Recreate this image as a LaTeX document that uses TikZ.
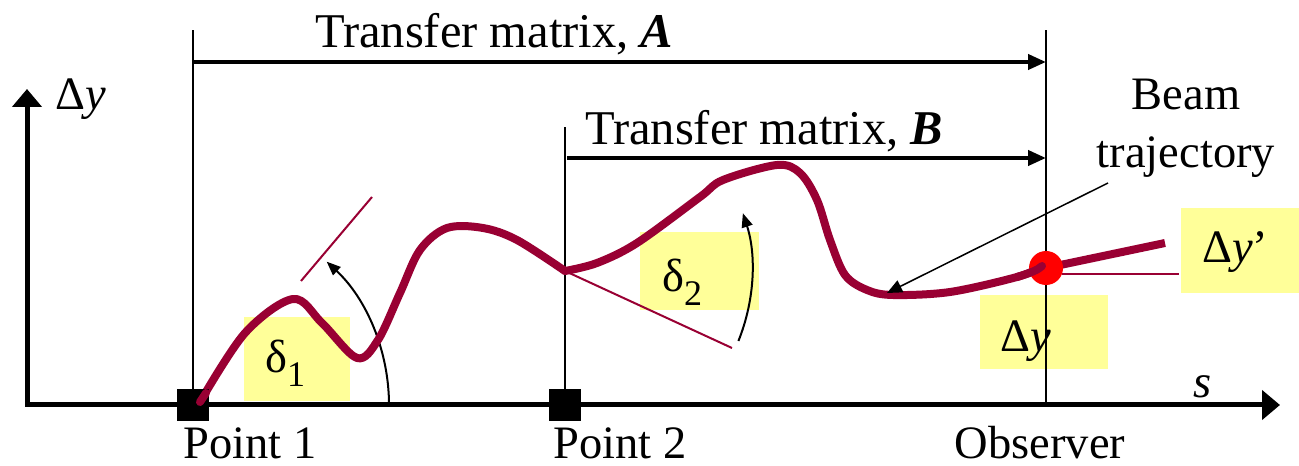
\documentclass[tikz,border=0pt]{standalone}
\usepackage{fontspec}
\setmainfont{Liberation Serif}
\newfontfamily\tnr{Liberation Serif}
\usetikzlibrary{arrows.meta}
\definecolor{beamred}{RGB}{153,0,51}
\definecolor{hl}{RGB}{255,255,153}
\newcommand\subidx[1]{\raisebox{-14pt}{\fontsize{36}{36}\selectfont #1}}
\begin{document}
\begin{tikzpicture}[x=1pt,y=1pt,
  every node/.style={font=\tnr\fontsize{46.5}{58}\selectfont, inner sep=0pt},
  spanlabel/.style={font=\tnr\fontsize{48.5}{58}\selectfont, anchor=base west},
  axis/.style={line width=5pt, -{Triangle[length=18pt,width=29pt]}},
  guide/.style={line width=2pt},
  span/.style={line width=4pt, -{Triangle[length=18pt,width=15pt]}},
  beam/.style={beamred, line width=8pt, line cap=round, line join=round},
  thinred/.style={beamred, line width=2pt},
  anglearrow/.style={line width=2pt, -{Triangle[length=14pt,width=11pt]}},
  hlbox/.style={fill=hl, draw=none},
  sq/.style={fill=black, minimum size=32pt}
]
\useasboundingbox (0,0) rectangle (1299,466);

% key coordinates
\coordinate (O) at (27,61);
\coordinate (P1) at (193,61);
\coordinate (P2) at (565,61);
\coordinate (Ob) at (1046,61);
\coordinate (P1top) at (193,436);
\coordinate (P2top) at (565,339);
\coordinate (Obtop) at (1046,436);
\coordinate (J2) at (565,195);
\coordinate (dot) at (1046,198);

% highlight boxes
\node[hlbox, minimum width=106pt, minimum height=84pt] (b1) at (297,107) {};
\node[hlbox, minimum width=119pt, minimum height=78pt] (b2) at (699.5,195) {};
\node[hlbox, minimum width=128pt, minimum height=74pt] (b3) at (1044,134) {};
\node[hlbox, minimum width=118pt, minimum height=85pt] (b4) at (1240,215.5) {};

% guide lines
\draw[guide] (P1) -- (P1top);
\draw[guide] (P2) -- (P2top);
\draw[guide] (Ob) -- (Obtop);

% transfer matrix spans
\coordinate (Aa) at (193,404);
\coordinate (Ab) at (1046,404);
\coordinate (Ba) at (567,308);
\coordinate (Bb) at (1046,308);
\draw[span] (Aa) -- (Ab);
\draw[span] (Ba) -- (Bb);
\node[spanlabel] (tA) at (315,418) {Transfer matrix, \textbf{\textit{A}}};
\node[spanlabel] (tB) at (585,321) {Transfer matrix, \textbf{\textit{B}}};

% axes
\coordinate (Yend) at (27,377);
\coordinate (Xend) at (1280,61);
\coordinate (Xstart) at (25,61);
\draw[axis] (Xstart) -- (Xend);
\draw[axis] (O) -- (Yend);
\node[anchor=base west] (ly) at (55,356) {Δ\textit{y}};
\node[anchor=base west] (ls) at (1193,68) {\textit{s}};

% tangent lines
\coordinate (t1a) at (301,185);
\coordinate (t1b) at (372,269);
\draw[thinred] (t1a) -- (t1b);
\coordinate (t2b) at (732,118);
\draw[thinred] (J2) -- (t2b);

% angle arrows
\coordinate (a1s) at (389,61);
\draw[anglearrow] (a1s) arc[start angle=0, end angle=47, radius=196];
\coordinate (a2s) at (738.4,125);
\draw[anglearrow] (a2s) arc[start angle=-22, end angle=18, radius=187];

% beam trajectory
\draw[beam] plot[smooth, tension=0.55] coordinates {
  (200,64) (245,133) (293,167) (322,143) (357,108) (378,126) (400,173)
  (420,216) (447,238) (483,238) (517,226) (565,195)};
\draw[beam] plot[smooth, tension=0.55] coordinates {
  (565,195) (597,203) (637,223) (700,269) (723,286) (777,301) (800,293)
  (817,266) (830,226) (845,191) (867,176) (893,171) (950,174) (1017,189) (1042,199)};
\coordinate (outend) at (1165,223);
\draw[thinred] (1062,192) -- (1179,192);
\draw[beam, line cap=butt] (dot) -- (outend);
\node[circle, fill=red, minimum size=34pt] (rd) at (dot) {};
\draw[beam] (1017,189) .. controls (1030,193) and (1038,196) .. (1042,200);

% squares
\node[sq] (s1) at (P1) {};
\node[sq] (s2) at (P2) {};
\draw[beam] (200,64) -- (206,73);

% labels
\node[anchor=base west] (d1) at (265,93) {δ\subidx{1}};
\node[anchor=base west] (d2) at (662,174) {δ\subidx{2}};
\node[anchor=base west] (dy) at (1000,114) {Δ\textit{y}};
\node[anchor=base west] (dyp) at (1202,203) {Δ\textit{y}’};

\node[anchor=base] (lp1) at (250,8) {Point 1};
\node[anchor=base] (lp2) at (620,8) {Point 2};
\node[anchor=base] (lob) at (1040,8) {Observer};

\node[anchor=base, align=center] (bt) at (1186,298) {Beam\\trajectory};
\coordinate (btarr) at (1108,283);
\coordinate (bmin) at (887,173);
\draw[line width=1.5pt, -{Triangle[length=15pt,width=13pt]}] (btarr) -- (bmin);
\end{tikzpicture}
\end{document}
